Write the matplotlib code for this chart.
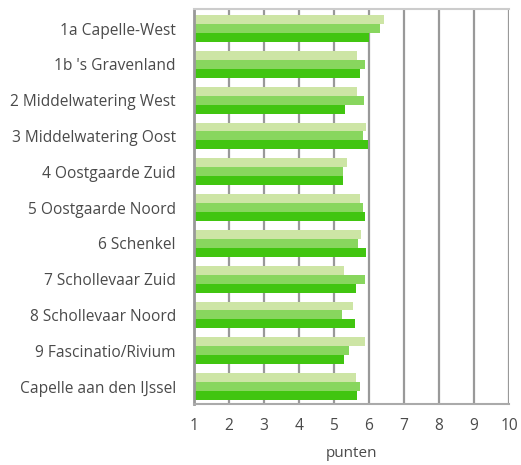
import matplotlib.pyplot as plt
import numpy as np

plt.rcParams['font.family'] = ['Open Sans', 'DejaVu Sans']

# gebieden en scores (drie reeksen, licht -> donker)
gebieden = ["1a Capelle-West", "1b 's Gravenland", "2 Middelwatering West",
            "3 Middelwatering Oost", "4 Oostgaarde Zuid", "5 Oostgaarde Noord",
            "6 Schenkel", "7 Schollevaar Zuid", "8 Schollevaar Noord",
            "9 Fascinatio/Rivium", "Capelle aan den IJssel"]
reeks_licht = [6.43, 5.66, 5.66, 5.91, 5.37, 5.74, 5.77, 5.29, 5.54, 5.89, 5.63]
reeks_midden = [6.31, 5.89, 5.86, 5.83, 5.26, 5.83, 5.69, 5.89, 5.23, 5.43, 5.74]
reeks_donker = [6.00, 5.74, 5.31, 5.97, 5.26, 5.89, 5.91, 5.63, 5.60, 5.29, 5.66]
xticks = [1, 2, 3, 4, 5, 6, 7, 8, 9, 10]

kleuren = ["#cde5a5", "#88d65e", "#41c510"]

fig = plt.figure(figsize=(5.21, 4.65), dpi=100)
ax = fig.add_axes([0.372, 0.131, 0.605, 0.850])

y = np.arange(len(gebieden))
h = 0.25
for i, (vals, kl) in enumerate(zip([reeks_licht, reeks_midden, reeks_donker], kleuren)):
    ax.barh(y - h + i * h, np.array(vals) - 1, left=1, height=h, color=kl, zorder=2)

ax.set_xlim(1, 10)
ax.set_ylim(10.49, -0.55)
ax.set_xticks(xticks)
ax.set_yticks(y)
ax.set_yticklabels(gebieden)
ax.tick_params(axis='both', length=0, labelsize=11.2, colors="#4a4a4a")
ax.tick_params(axis='y', pad=13)
ax.tick_params(axis='x', pad=10)
ax.set_xlabel("punten", fontsize=11, color="#4a4a4a", labelpad=9)

ax.grid(axis='x', color="#999999", linewidth=1.6, zorder=1)
ax.set_axisbelow(True)
ax.spines['right'].set_visible(False)
ax.spines['top'].set_color("#cccccc")
ax.spines['top'].set_linewidth(1.5)
ax.spines['left'].set_color("#999999")
ax.spines['left'].set_linewidth(2)
ax.spines['bottom'].set_color("#aaaaaa")
ax.spines['bottom'].set_linewidth(1.5)

fig.savefig("out.png", dpi=100)
